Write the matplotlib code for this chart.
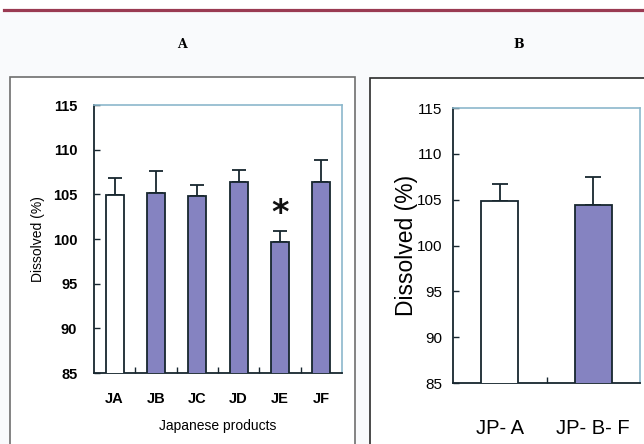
import matplotlib.pyplot as plt
from matplotlib.patches import Rectangle
from matplotlib.lines import Line2D
import numpy as np

# Panel A: individual Japanese products
products_a = ['JA', 'JB', 'JC', 'JD', 'JE', 'JF']
dissolved_a = [104.9, 105.1, 104.8, 106.4, 99.7, 106.4]
sd_a = [1.9, 2.5, 1.2, 1.3, 1.25, 2.4]

# Panel B: reference product vs pooled generics
groups_b = ['JP- A', 'JP- B- F']
dissolved_b = [104.9, 104.45]
sd_b = [1.8, 3.0]

yticks = [85, 90, 95, 100, 105, 110, 115]

W, H = 644, 444
fig = plt.figure(figsize=(6.44, 4.44), dpi=100)
fig.patch.set_facecolor('white')

def fx(px):
    return px / W

def fy(py):
    return 1 - py / H

# light page tint below the header rule
fig.patches.append(Rectangle((0, 0), 1, fy(12), transform=fig.transFigure,
                             facecolor='#f9fafc', edgecolor='none', zorder=-5))
fig.lines.append(Line2D([fx(4), 1], [fy(10.5), fy(10.5)], transform=fig.transFigure,
                        color='#9a3a52', lw=2.3))

# panel frames
fig.patches.append(Rectangle((fx(10), fy(460)), fx(345), fy(77) - fy(460),
                             transform=fig.transFigure, facecolor='white',
                             edgecolor='#6e6e6e', lw=1.2, zorder=-1))
fig.patches.append(Rectangle((fx(370), fy(460)), fx(300), fy(78) - fy(460),
                             transform=fig.transFigure, facecolor='white',
                             edgecolor='#2b2b2b', lw=1.2, zorder=-1))

fig.text(fx(182), fy(45), 'A', family='DejaVu Serif', weight='bold', fontsize=9,
         ha='center', va='center')
fig.text(fx(519), fy(45), 'B', family='DejaVu Serif', weight='bold', fontsize=9,
         ha='center', va='center')

fill = '#8583c1'
edge = '#17262e'
spine_light = '#8cb8cc'

def style_axes(ax, n):
    ax.set_xlim(-0.5, n - 0.5)
    ax.set_ylim(85, 115)
    ax.set_yticks(yticks)
    ax.set_xticks(np.arange(n))
    ax.set_xticks(np.arange(n - 1) + 0.5, minor=True)
    ax.tick_params(axis='y', direction='in', length=4, color=edge, width=1)
    ax.tick_params(axis='x', which='major', length=0)
    ax.tick_params(axis='x', which='minor', direction='in', length=4, color=edge, width=1)
    ax.spines['left'].set_color(edge)
    ax.spines['bottom'].set_color(edge)
    ax.spines['left'].set_linewidth(1.3)
    ax.spines['bottom'].set_linewidth(1.3)
    ax.spines['top'].set_color(spine_light)
    ax.spines['right'].set_color(spine_light)
    ax.spines['top'].set_linewidth(1.2)
    ax.spines['right'].set_linewidth(1.2)
    ax.set_facecolor('white')

# ---- panel A
axA = fig.add_axes([fx(94), fy(373), fx(342) - fx(94), fy(105) - fy(373)])
xa = np.arange(len(products_a))
colors_a = ['white'] + [fill] * (len(products_a) - 1)
axA.bar(xa, dissolved_a, width=0.44, bottom=0, color=colors_a, edgecolor=edge,
        linewidth=1.3, zorder=3)
axA.errorbar(xa, dissolved_a, yerr=[np.zeros(len(sd_a)), sd_a], fmt='none',
             ecolor=edge, elinewidth=1.3, capsize=5, capthick=1.3, zorder=2)
style_axes(axA, len(products_a))
axA.set_xticklabels(products_a, fontsize=10.5, weight='bold', family='Liberation Sans')
axA.tick_params(axis='x', pad=14)
axA.set_yticklabels([str(t) for t in yticks], fontsize=10.5, weight='bold',
                    family='Liberation Sans')
axA.tick_params(axis='y', pad=12)
axA.set_xlabel('Japanese products', fontsize=10, family='Liberation Sans',
               labelpad=9)
axA.set_ylabel('Dissolved (%)', fontsize=10, family='Liberation Sans', labelpad=6)
axA.text(4, dissolved_a[4] + sd_a[4] + 1.9, '*', ha='center', va='center',
         fontsize=24, weight='bold', family='DejaVu Sans', color='#111111')

# ---- panel B
axB = fig.add_axes([fx(453), fy(383), fx(640) - fx(453), fy(108) - fy(383)])
xb = np.arange(len(groups_b))
axB.bar(xb, dissolved_b, width=0.4, color=['white', fill], edgecolor=edge,
        linewidth=1.3, zorder=3)
axB.errorbar(xb, dissolved_b, yerr=[np.zeros(len(sd_b)), sd_b], fmt='none',
             ecolor=edge, elinewidth=1.3, capsize=6, capthick=1.3, zorder=2)
style_axes(axB, len(groups_b))
axB.set_xticklabels(groups_b, fontsize=14.5, family='Liberation Sans')
axB.tick_params(axis='x', pad=26)
axB.set_yticklabels([str(t) for t in yticks], fontsize=11,
                    family='Liberation Sans')
axB.tick_params(axis='y', pad=8)
axB.set_ylabel('Dissolved (%)', fontsize=16.5, family='Liberation Sans', labelpad=-1)

fig.savefig('out.png', dpi=100)
